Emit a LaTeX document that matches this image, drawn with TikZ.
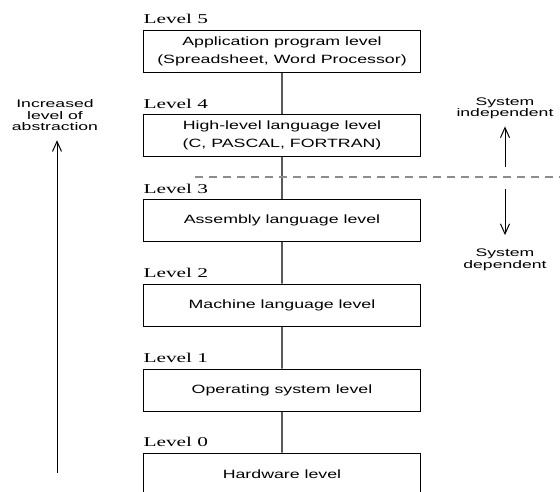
\documentclass[tikz,border=0pt]{standalone}
\usepackage{fontspec}
\setmainfont{Liberation Serif}
\setsansfont{Liberation Sans}
\usetikzlibrary{arrows.meta}
\colorlet{dashgray}{black!45}
\tikzset{levelbox/.style={draw, line width=1pt, xscale=1.48,
    minimum width=186.5pt, minimum height=42pt, inner sep=0pt,
    align=center, font=\sffamily\fontsize{12}{18}\selectfont}}
\tikzset{levellabel/.style={xscale=1.58, inner sep=0pt, anchor=base west,
    font=\rmfamily\fontsize{13.5}{16}\selectfont}}
\tikzset{sidetext/.style={xscale=1.6, inner sep=0pt, align=center,
    font=\sffamily\fontsize{11}{11.5}\selectfont}}
\tikzset{link/.style={line width=1.1pt}}
\tikzset{openarrow/.style={line width=1pt, -{Straight Barb[length=10pt,width=9pt]}}}
\tikzset{dashline/.style={dash pattern=on 8pt off 6pt, line width=1.2pt, draw=dashgray}}

\begin{document}
\begin{tikzpicture}[x=1pt, y=-1pt]
    \clip (0,0) rectangle (560,491);
    % the six levels
    \node[levelbox] (b5) at (282,51) {Application program level\\(Spreadsheet, Word Processor)};
    \node[levelbox] (b4) at (282,135.5) {High-level language level\\(C, PASCAL, FORTRAN)};
    \node[levelbox] (b3) at (282,220.5) {Assembly language level};
    \node[levelbox] (b2) at (282,305) {Machine language level};
    \node[levelbox] (b1) at (282,390) {Operating system level};
    \node[levelbox] (b0) at (282,474) {Hardware level};
    \node[levellabel] (l5) at ([yshift=6pt]b5.north west) {Level 5};
    \node[levellabel] (l4) at ([yshift=6pt]b4.north west) {Level 4};
    \node[levellabel] (l3) at ([yshift=6pt]b3.north west) {Level 3};
    \node[levellabel] (l2) at ([yshift=6pt]b2.north west) {Level 2};
    \node[levellabel] (l1) at ([yshift=6pt]b1.north west) {Level 1};
    \node[levellabel] (l0) at ([yshift=6pt]b0.north west) {Level 0};
    \draw[link] (b5) -- (b4);
    \draw[link] (b4) -- (b3);
    \draw[link] (b3) -- (b2);
    \draw[link] (b2) -- (b1);
    \draw[link] (b1) -- (b0);
    % independent / dependent split
    \draw[dashline] (195,177) -- (560,177);
    \node[sidetext] (indep) at (505,108.5) {System\\independent};
    \node[sidetext] (dep) at (505,260) {System\\dependent};
    \coordinate (indepfoot) at (505,167);
    \coordinate (depfoot) at (505,189);
    \draw[openarrow, shorten >=7pt] (indepfoot) -- (indep.south);
    \draw[openarrow, shorten >=14pt] (depfoot) -- (dep.north);
    % abstraction arrow
    \node[sidetext] (abstr) at (55,115.5) {Increased\\level of\\abstraction};
    \coordinate (abstrfoot) at (57,473);
    \draw[openarrow, shorten >=9pt] (abstrfoot) -- (abstrfoot |- abstr.south);
\end{tikzpicture}
\end{document}
